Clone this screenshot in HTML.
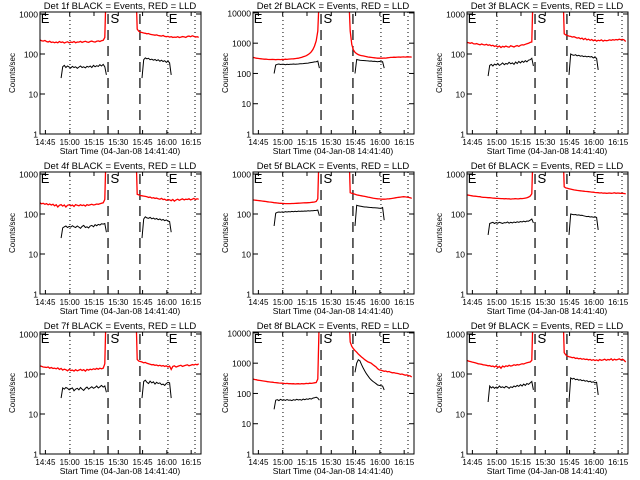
<!DOCTYPE html>
<html><head><meta charset="utf-8"><style>
html,body{margin:0;padding:0;background:#fff;}
svg{display:block;font-family:"Liberation Sans",sans-serif;}
</style></head><body>
<svg id="chart" width="640" height="480" viewBox="0 0 640 480" xmlns="http://www.w3.org/2000/svg">
<rect width="640" height="480" fill="#fff"/>
</svg>
<script>
// Time axis: minutes since 14:41:40
const tickLabels = ["14:45","15:00","15:15","15:30","15:45","16:00","16:15"];
const tickTimes = [3.33,18.33,33.33,48.33,63.33,78.33,93.33];
const dottedTimes = [18.5,79,95.7];
const dashedTimes = [42,61.7];
const markerLabels = ["E","S","E"];
const markerTimes = [0.5,43.5,79.5];
const detNames = ["1f","2f","3f","4f","5f","6f","7f","8f","9f"];
const yTopDecade = [3,4,3,3,3,3,3,4,3];
// segment start times (minutes) — each series uses 1-minute spacing
const redPreStart = 0, redPostStart = 59, blackPreStart = 13, blackPostStart = 63;

const redPre = [
[225,215,210,218,205,200,208,195,200,192,198,190,205,195,200,188,196,202,190,198,195,205,192,200,198,206,195,202,208,200,196,205,210,202,198,208,212,205,215,220,260,8000],
[340,330,320,315,310,305,300,295,298,292,290,288,292,290,285,288,290,286,292,290,295,292,298,300,302,305,310,315,320,330,340,355,370,390,420,460,520,620,800,1200,2500,50000],
[195,190,185,192,180,178,182,175,170,178,172,168,175,165,170,160,165,155,160,150,158,145,155,150,158,152,148,160,155,150,158,162,155,165,170,168,175,180,185,195,200,8000],
[190,180,185,175,182,170,178,168,175,160,170,150,165,172,158,168,150,165,170,160,168,155,172,165,160,170,162,168,158,172,165,170,175,168,172,178,175,180,185,190,230,8000],
[225,222,220,218,215,212,210,208,205,202,200,198,195,192,190,188,186,185,184,183,182,182,182,182,183,183,184,185,186,187,188,189,190,191,192,193,195,197,200,205,240,8000],
[300,295,290,285,280,278,275,272,270,265,262,260,258,256,255,252,250,248,246,245,244,243,242,240,242,238,240,236,238,240,242,238,240,244,242,245,250,255,265,280,320,8000],
[160,155,150,148,145,150,140,145,138,140,135,142,130,138,125,132,128,120,130,122,125,118,128,120,125,130,122,128,118,130,125,132,128,135,130,138,132,140,135,140,180,8000],
[300,290,285,275,270,265,260,255,250,245,240,238,235,230,228,225,222,220,218,215,212,215,210,212,208,210,205,208,210,206,212,208,210,215,212,218,215,220,225,230,300,50000],
[220,210,205,200,195,190,185,180,178,175,170,168,165,160,162,155,158,150,160,145,155,140,158,150,160,155,165,158,162,170,165,172,168,175,180,178,185,190,195,200,220,8000]
];
const redPost = [
[8000,420,370,350,345,335,330,320,325,310,305,300,295,300,290,285,280,290,275,270,275,265,270,260,265,262,270,258,265,272,268,260,275,280,270,285,275,265,270,260],
[50000,2500,900,600,500,450,420,400,390,380,370,360,350,345,340,335,330,325,320,322,318,320,325,322,330,335,338,340,345,342,348,350,345,350,352,348,355,350,352,348],
[8000,320,300,290,280,275,265,270,260,250,255,240,250,230,245,225,235,220,230,215,225,210,220,215,225,210,220,215,218,225,220,228,222,230,225,235,228,232,225,205],
[8000,310,300,290,285,280,275,270,260,265,250,255,245,250,240,235,245,230,235,220,230,225,215,230,210,225,235,220,230,240,225,235,230,240,225,235,245,230,240,235],
[8000,340,330,320,310,300,295,290,285,280,275,270,265,260,255,250,245,242,240,238,236,235,235,236,238,240,243,246,250,254,258,262,265,268,270,268,265,260,255,245],
[8000,480,450,440,430,420,410,400,395,390,385,380,375,372,368,365,360,356,352,350,345,342,340,335,338,332,335,330,332,335,330,333,338,330,335,332,328,330,325,320],
[8000,230,210,205,200,190,195,185,180,175,170,172,165,168,160,165,158,162,155,160,150,158,130,155,160,150,155,160,165,155,160,165,170,160,165,172,168,175,170,180],
[50000,5000,3600,3000,2600,2300,2000,1800,1600,1450,1300,1200,1100,1050,1000,900,820,750,650,600,580,560,540,550,520,530,500,480,490,470,460,450,430,440,420,400,410,390,380,350],
[8000,340,300,280,270,265,255,260,245,250,240,245,235,240,230,235,225,232,220,228,218,225,215,230,220,225,235,220,230,225,240,220,235,225,230,240,225,235,220,200]
];
const blackPre = [
[25,48,52,46,50,47,45,49,46,48,44,47,50,46,48,45,49,47,50,46,52,48,51,49,54,50,55,48,30],
[100,190,200,205,198,202,200,195,200,198,202,200,205,200,203,205,208,210,212,215,218,220,225,230,235,240,245,255,150],
[28,52,55,50,56,53,58,52,55,60,54,58,56,62,57,60,55,63,58,65,60,66,62,68,64,70,72,78,50],
[25,45,48,50,46,49,47,51,48,46,50,47,44,49,52,46,48,45,50,52,48,54,51,55,53,57,56,58,35],
[50,105,110,112,110,113,111,114,112,115,113,116,114,117,115,118,116,118,117,119,118,120,119,120,121,122,123,125,90],
[30,58,60,62,58,61,59,62,60,58,61,60,63,59,62,60,63,61,64,62,65,63,66,64,67,66,70,75,60],
[25,45,42,46,44,40,43,45,38,42,44,40,46,42,39,44,47,42,45,48,44,46,50,45,48,52,47,50,35],
[30,60,62,58,64,60,62,59,63,60,61,58,62,60,64,61,63,60,65,62,66,64,68,65,70,72,75,70,60],
[20,50,45,48,44,47,45,50,46,48,45,49,47,44,48,46,50,48,52,49,54,50,56,52,58,55,60,65,40]
];
const blackPost = [
[25,72,80,76,78,72,74,70,73,68,72,66,70,65,68,62,66,60,30],
[100,290,280,275,270,268,265,262,260,255,258,250,252,248,245,250,240,245,150],
[30,100,95,92,96,90,93,88,90,86,88,85,87,84,86,80,82,78,40],
[25,75,85,80,78,82,76,79,74,77,72,75,70,73,68,71,66,65,35],
[50,165,160,158,155,152,150,150,148,146,145,144,143,142,141,140,139,145,70],
[30,100,98,96,97,94,95,92,93,90,88,86,87,84,85,83,84,82,40],
[25,65,70,62,58,66,60,64,56,62,58,60,54,56,52,58,62,60,25],
[500,1000,1300,1200,900,700,550,450,380,320,280,250,230,210,190,185,180,175,130],
[20,80,75,78,72,74,70,72,68,70,66,68,64,66,62,64,60,62,30]
];

const NS = "http://www.w3.org/2000/svg";
const svg = document.getElementById("chart");
const tMax = 99.4;
function mk(tag, attrs, parent){const e=document.createElementNS(NS,tag);for(const k in attrs)e.setAttribute(k,attrs[k]);parent.appendChild(e);return e;}

for (let p = 0; p < 9; p++) {
  const ox = Math.round((p % 3) * 213.4), oy = Math.floor(p / 3) * 160;
  const L = ox + 40, R = ox + 201, T = oy + 12, B = oy + 134;
  const top = yTopDecade[p] + (yTopDecade[p] === 3 ? 0.05 : 0.03);
  const xS = t => L + (t / tMax) * (R - L);
  const yS = v => B - (Math.log10(v) / top) * (B - T);
  const g = mk("g", {}, svg);
  
  
  const cid = "clip" + p;
  const cp = mk("clipPath", {id: cid}, g);
  mk("rect", {x: L, y: T, width: R - L, height: B - T}, cp);

  const title = mk("text", {x: ox + 120, y: oy + 9, "font-size": "9.5", "text-anchor": "middle", fill: "#000"}, g);
  title.textContent = "Det " + detNames[p] + " BLACK = Events, RED = LLD";
  
  

  dottedTimes.forEach(t => {
    const l = mk("line", {x1: xS(t), x2: xS(t), y1: T, y2: B, stroke: "#000", "stroke-width": 1, "stroke-dasharray": "1,3"}, g);
    
    
  });
  dashedTimes.forEach(t => {
    const l = mk("line", {x1: xS(t), x2: xS(t), y1: T + 2, y2: B, stroke: "#000", "stroke-width": 1.2, "stroke-dasharray": "10,6"}, g);
    
    
  });
  markerLabels.forEach((m, i) => {
    const tx = mk("text", {x: xS(markerTimes[i]), y: T + 11, "font-size": "13", fill: "#000"}, g);
    tx.textContent = m;
    
    
  });

  const series = [
    [redPre[p], redPreStart, "#ff0000", 1.3, "red-lld-pre"],
    [redPost[p], redPostStart, "#ff0000", 1.3, "red-lld-post"],
    [blackPre[p], blackPreStart, "#000", 1, "black-events-pre"],
    [blackPost[p], blackPostStart, "#000", 1, "black-events-post"]
  ];
  series.forEach(s => {
    const pts = s[0].map((v, i) => xS(s[1] + i).toFixed(1) + "," + yS(v).toFixed(1)).join(" ");
    const pl = mk("polyline", {points: pts, fill: "none", stroke: s[2], "stroke-width": s[3], "clip-path": "url(#" + cid + ")"}, g);
    
    
  });

  const fr = mk("rect", {x: L, y: T, width: R - L, height: B - T, fill: "none", stroke: "#000", "stroke-width": 1}, g);
  
  

  for (let d = 0; d <= yTopDecade[p]; d++) {
    const y = yS(Math.pow(10, d));
    mk("line", {x1: L, x2: L + 5, y1: y, y2: y, stroke: "#000"}, g);
    mk("line", {x1: R - 5, x2: R, y1: y, y2: y, stroke: "#000"}, g);
    const lb = mk("text", {x: L - 2, y: y + 3.5, "font-size": "8.5", "text-anchor": "end", fill: "#000"}, g);
    lb.textContent = String(Math.pow(10, d));
    
    
  }
  tickTimes.forEach((t, i) => {
    const x = xS(t);
    mk("line", {x1: x, x2: x, y1: B, y2: B - 4, stroke: "#000"}, g);
    mk("line", {x1: x, x2: x, y1: T, y2: T + 4, stroke: "#000"}, g);
    const lb = mk("text", {x: x, y: B + 11, "font-size": "8", "text-anchor": "middle", fill: "#000"}, g);
    lb.textContent = tickLabels[i];
    
    
  });
  const xt = mk("text", {x: ox + 120, y: B + 20, "font-size": "8.5", "text-anchor": "middle", fill: "#000"}, g);
  xt.textContent = "Start Time (04-Jan-08 14:41:40)";
  
  
  const yt = mk("text", {x: 0, y: 0, "font-size": "8", "text-anchor": "middle", fill: "#000", transform: "translate(" + (ox + 15) + "," + (oy + 73) + ") rotate(-90)"}, g);
  yt.textContent = "Counts/sec";
  
  
}
</script>
</body></html>
